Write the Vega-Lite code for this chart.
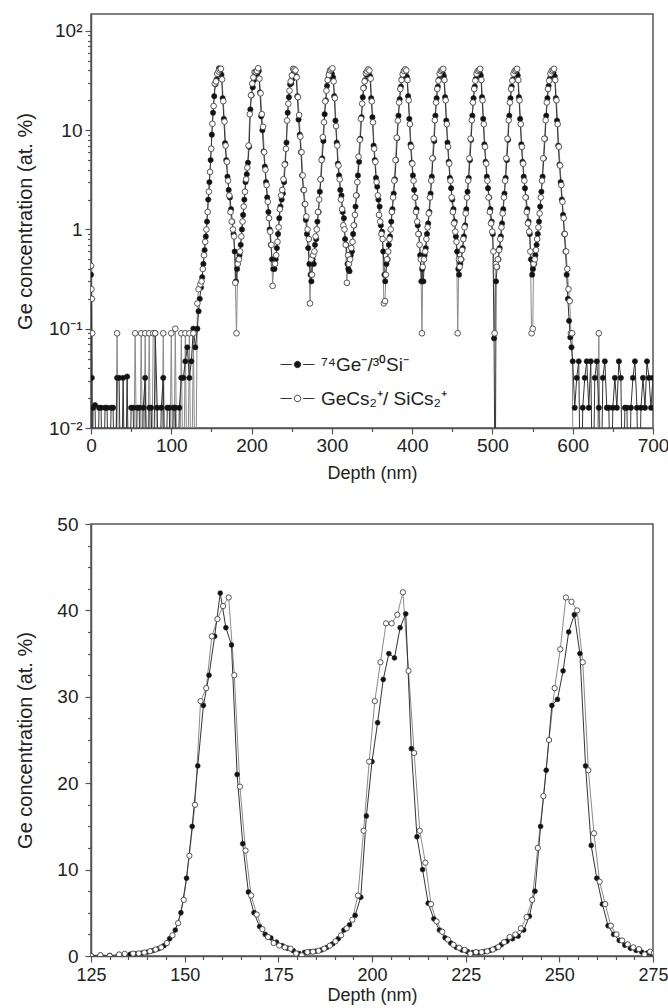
{
"$schema":"https://vega.github.io/schema/vega-lite/v6.json",
"padding":{"left":14,"top":13,"right":10,"bottom":2},
"background":"white",
"config":{
 "view":{"stroke":"#555","strokeWidth":1.5},
 "axis":{"labelFont":"Liberation Sans","titleFont":"Liberation Sans","labelFontSize":19,"titleFontSize":18,"titleFontWeight":"normal","labelColor":"#222","titleColor":"#222","domainColor":"#555","tickColor":"#555","domainWidth":1.5,"tickWidth":1.2,"grid":false,"labelFlush":false,"labelOverlap":false,"labelPadding":2}
},
"datasets":{
"ge":[
{"d":0,"c":0.35},{"d":0.5,"c":0.2},{"d":1,"c":0.032},{"d":1.5,"c":0.001},{"d":2.5,"c":0.016},{"d":5,"c":0.017},{"d":7.5,"c":0.001},{"d":10,"c":0.016},{"d":12.5,"c":0.016},{"d":15,"c":0.001},{"d":17.5,"c":0.016},{"d":20,"c":0.016},{"d":22.5,"c":0.001},{"d":25,"c":0.016},{"d":27.5,"c":0.016},{"d":30,"c":0.001},{"d":32.5,"c":0.032},{"d":35,"c":0.032},{"d":37.5,"c":0.001},{"d":40,"c":0.032},{"d":42.5,"c":0.001},{"d":45,"c":0.033},{"d":47.5,"c":0.001},{"d":50,"c":0.016},{"d":52.5,"c":0.016},{"d":55,"c":0.001},{"d":57.5,"c":0.016},{"d":60,"c":0.016},{"d":62.5,"c":0.001},{"d":65,"c":0.016},{"d":67.5,"c":0.032},{"d":70,"c":0.001},{"d":72.5,"c":0.016},{"d":75,"c":0.016},{"d":77.5,"c":0.001},{"d":80,"c":0.09},{"d":82.5,"c":0.016},{"d":85,"c":0.001},{"d":87.5,"c":0.016},{"d":90,"c":0.032},{"d":92.5,"c":0.001},{"d":95,"c":0.016},{"d":97.5,"c":0.016},{"d":100,"c":0.001},{"d":102.5,"c":0.016},{"d":105,"c":0.016},{"d":107.5,"c":0.001},{"d":110,"c":0.016},{"d":112.5,"c":0.032},{"d":115,"c":0.032},{"d":117.5,"c":0.047},{"d":120,"c":0.065},{"d":122.5,"c":0.032},{"d":125,"c":0.047},{"d":127.5,"c":0.1},{"d":130,"c":0.065},{"d":132.5,"c":0.1},{"d":134,"c":0.15},
{"d":135.5,"c":0.2},{"d":137,"c":0.26},{"d":138.5,"c":0.33},{"d":140,"c":0.45},{"d":141.5,"c":0.62},{"d":143,"c":0.85},{"d":144.5,"c":1.2},{"d":146,"c":2.0},{"d":147.5,"c":3.0},{"d":149,"c":5.0},{"d":150.5,"c":9.0},{"d":152,"c":15},{"d":153.5,"c":22},{"d":155,"c":29},{"d":156.5,"c":32.5},{"d":158,"c":37},{"d":159.5,"c":42},{"d":161,"c":38},{"d":162.5,"c":36},{"d":164,"c":21},{"d":165.5,"c":13},{"d":167,"c":7.4},{"d":168.5,"c":5.0},{"d":170,"c":3.4},{"d":171.5,"c":2.5},{"d":173,"c":2.1},{"d":174.5,"c":1.6},{"d":176,"c":1.2},{"d":177.5,"c":0.9},{"d":179,"c":0.6},{"d":180.5,"c":0.3},
{"d":182,"c":0.4},{"d":183.5,"c":0.5},{"d":185,"c":0.55},{"d":186.5,"c":0.7},{"d":188,"c":1.0},{"d":189.5,"c":1.4},{"d":191,"c":2.0},{"d":192.5,"c":3.0},{"d":194,"c":3.6},{"d":195.5,"c":4.7},{"d":197,"c":6.8},{"d":198.5,"c":16.2},{"d":200,"c":22.5},{"d":201.5,"c":27},{"d":203,"c":32},{"d":204.5,"c":35},{"d":206,"c":34.5},{"d":207.5,"c":38},{"d":209,"c":39.6},{"d":210.5,"c":24},{"d":212,"c":13.8},{"d":213.5,"c":10},{"d":215,"c":6.1},{"d":216.5,"c":4.3},{"d":218,"c":3.0},{"d":219.5,"c":2.1},{"d":221,"c":1.5},{"d":222.5,"c":1.0},{"d":224,"c":0.7},{"d":225.5,"c":0.5},{"d":227,"c":0.4},
{"d":228.5,"c":0.4},{"d":230,"c":0.5},{"d":231.5,"c":0.65},{"d":233,"c":0.9},{"d":234.5,"c":1.3},{"d":236,"c":1.7},{"d":237.5,"c":2.0},{"d":239,"c":2.3},{"d":240.5,"c":3.0},{"d":242,"c":4.6},{"d":243.5,"c":7.5},{"d":245,"c":15},{"d":246.5,"c":21.5},{"d":248,"c":29},{"d":249.5,"c":29.7},{"d":251,"c":33},{"d":252.5,"c":37.5},{"d":254,"c":39.5},{"d":255.5,"c":35},{"d":257,"c":22},{"d":258.5,"c":12.8},{"d":260,"c":9.0},{"d":261.5,"c":6.0},{"d":263,"c":3.5},{"d":264.5,"c":2.5},{"d":266,"c":1.8},{"d":267.5,"c":1.25},{"d":269,"c":0.9},{"d":270.5,"c":0.65},{"d":272,"c":0.45},{"d":273.5,"c":0.35},
{"d":274.5,"c":0.3},{"d":276,"c":0.5},{"d":277.5,"c":0.45},{"d":279,"c":0.7},{"d":280.5,"c":0.8},{"d":282,"c":1.2},{"d":283.5,"c":1.5},{"d":285,"c":2.4},{"d":286.5,"c":3.2},{"d":288,"c":5.2},{"d":289.5,"c":7.8},{"d":291,"c":14.5},{"d":292.5,"c":20},{"d":294,"c":28},{"d":295.5,"c":33},{"d":297,"c":38},{"d":298.5,"c":40},{"d":300,"c":37},{"d":301.5,"c":34},{"d":303,"c":22},{"d":304.5,"c":12.5},{"d":306,"c":7.5},{"d":307.5,"c":4.6},{"d":309,"c":3.5},{"d":310.5,"c":2.5},{"d":312,"c":2.2},{"d":313.5,"c":1.5},{"d":315,"c":1.3},{"d":316.5,"c":0.8},{"d":318,"c":0.7},{"d":319.5,"c":0.45},
{"d":320.5,"c":0.4},{"d":322,"c":0.38},{"d":323.5,"c":0.55},{"d":325,"c":0.6},{"d":326.5,"c":0.9},{"d":328,"c":1.1},{"d":329.5,"c":1.7},{"d":331,"c":2.2},{"d":332.5,"c":3.5},{"d":334,"c":4.8},{"d":335.5,"c":8.2},{"d":337,"c":13.5},{"d":338.5,"c":21.5},{"d":340,"c":27},{"d":341.5,"c":32},{"d":343,"c":36.5},{"d":344.5,"c":39},{"d":346,"c":38.5},{"d":347.5,"c":35},{"d":349,"c":21},{"d":350.5,"c":13.5},{"d":352,"c":7},{"d":353.5,"c":5},{"d":355,"c":3.3},{"d":356.5,"c":2.7},{"d":358,"c":2.0},{"d":359.5,"c":1.7},{"d":361,"c":1.1},{"d":362.5,"c":0.95},{"d":364,"c":0.6},{"d":365.5,"c":0.35},
{"d":366.5,"c":0.3},{"d":368,"c":0.45},{"d":369.5,"c":0.5},{"d":371,"c":0.7},{"d":372.5,"c":0.85},{"d":374,"c":1.2},{"d":375.5,"c":1.6},{"d":377,"c":2.3},{"d":378.5,"c":3.2},{"d":380,"c":5.0},{"d":381.5,"c":8.3},{"d":383,"c":14},{"d":384.5,"c":20.5},{"d":386,"c":27.5},{"d":387.5,"c":33},{"d":389,"c":37.5},{"d":390.5,"c":37.5},{"d":392,"c":38.5},{"d":393.5,"c":34.5},{"d":395,"c":22},{"d":396.5,"c":13},{"d":398,"c":7.2},{"d":399.5,"c":4.7},{"d":401,"c":3.5},{"d":402.5,"c":2.5},{"d":404,"c":2.1},{"d":405.5,"c":1.6},{"d":407,"c":1.1},{"d":408.5,"c":0.9},{"d":410,"c":0.55},{"d":411.5,"c":0.3},
{"d":412.5,"c":0.4},{"d":414,"c":0.3},{"d":415.5,"c":0.55},{"d":417,"c":0.65},{"d":418.5,"c":0.9},{"d":420,"c":1.15},{"d":421.5,"c":1.5},{"d":423,"c":2.3},{"d":424.5,"c":3.4},{"d":426,"c":5.2},{"d":427.5,"c":7.8},{"d":429,"c":14},{"d":430.5,"c":21},{"d":432,"c":27.5},{"d":433.5,"c":32.5},{"d":435,"c":37},{"d":436.5,"c":38},{"d":438,"c":37.5},{"d":439.5,"c":35},{"d":441,"c":21.5},{"d":442.5,"c":12.5},{"d":444,"c":7.5},{"d":445.5,"c":4.8},{"d":447,"c":3.3},{"d":448.5,"c":2.6},{"d":450,"c":2.0},{"d":451.5,"c":1.6},{"d":453,"c":1.2},{"d":454.5,"c":0.85},{"d":456,"c":0.6},{"d":457.5,"c":0.4},
{"d":458.5,"c":0.35},{"d":460,"c":0.45},{"d":461.5,"c":0.5},{"d":463,"c":0.65},{"d":464.5,"c":0.85},{"d":466,"c":1.1},{"d":467.5,"c":1.6},{"d":469,"c":2.4},{"d":470.5,"c":3.3},{"d":472,"c":5.0},{"d":473.5,"c":8.0},{"d":475,"c":14},{"d":476.5,"c":21},{"d":478,"c":27.5},{"d":479.5,"c":33},{"d":481,"c":37},{"d":482.5,"c":38.5},{"d":484,"c":38},{"d":485.5,"c":35.5},{"d":487,"c":21.5},{"d":488.5,"c":13},{"d":490,"c":7.2},{"d":491.5,"c":4.8},{"d":493,"c":3.4},{"d":494.5,"c":2.6},{"d":496,"c":2.1},{"d":497.5,"c":1.6},{"d":499,"c":1.2},{"d":500.5,"c":0.9},{"d":502,"c":0.08},{"d":503.5,"c":0.001},
{"d":504.5,"c":0.3},{"d":506,"c":0.42},{"d":507.5,"c":0.5},{"d":509,"c":0.65},{"d":510.5,"c":0.85},{"d":512,"c":1.15},{"d":513.5,"c":1.6},{"d":515,"c":2.3},{"d":516.5,"c":3.3},{"d":518,"c":5.0},{"d":519.5,"c":8.0},{"d":521,"c":14},{"d":522.5,"c":21},{"d":524,"c":27.5},{"d":525.5,"c":32.5},{"d":527,"c":37},{"d":528.5,"c":38.5},{"d":530,"c":38},{"d":531.5,"c":35.5},{"d":533,"c":21.5},{"d":534.5,"c":13},{"d":536,"c":7.2},{"d":537.5,"c":4.8},{"d":539,"c":3.4},{"d":540.5,"c":2.6},{"d":542,"c":2.1},{"d":543.5,"c":1.6},{"d":545,"c":1.2},{"d":546.5,"c":0.9},{"d":548,"c":0.5},{"d":549.5,"c":0.35},
{"d":550.5,"c":0.4},{"d":552,"c":0.45},{"d":553.5,"c":0.55},{"d":555,"c":0.7},{"d":556.5,"c":0.9},{"d":558,"c":1.2},{"d":559.5,"c":1.7},{"d":561,"c":2.4},{"d":562.5,"c":3.4},{"d":564,"c":5.2},{"d":565.5,"c":8.2},{"d":567,"c":14},{"d":568.5,"c":21},{"d":570,"c":28},{"d":571.5,"c":33},{"d":573,"c":37.5},{"d":574.5,"c":39},{"d":576,"c":38},{"d":577.5,"c":35},{"d":579,"c":21},{"d":580.5,"c":12.5},{"d":582,"c":7},{"d":583.5,"c":4.5},{"d":585,"c":3.0},{"d":586.5,"c":2.0},{"d":588,"c":1.4},{"d":589.5,"c":0.9},{"d":591,"c":0.6},{"d":592.5,"c":0.35},{"d":594,"c":0.2},{"d":595.5,"c":0.12},{"d":597,"c":0.082},{"d":598.5,"c":0.065},{"d":600,"c":0.047},
{"d":602.5,"c":0.016},{"d":605,"c":0.032},{"d":607.5,"c":0.047},{"d":610,"c":0.001},{"d":612.5,"c":0.016},{"d":615,"c":0.032},{"d":617.5,"c":0.047},{"d":620,"c":0.016},{"d":622.5,"c":0.047},{"d":625,"c":0.001},{"d":627.5,"c":0.032},{"d":630,"c":0.047},{"d":632.5,"c":0.016},{"d":635,"c":0.001},{"d":637.5,"c":0.032},{"d":640,"c":0.047},{"d":642.5,"c":0.016},{"d":645,"c":0.016},{"d":647.5,"c":0.001},{"d":650,"c":0.016},{"d":652.5,"c":0.032},{"d":655,"c":0.016},{"d":657.5,"c":0.047},{"d":660,"c":0.032},{"d":662.5,"c":0.001},{"d":665,"c":0.016},{"d":667.5,"c":0.016},{"d":670,"c":0.001},{"d":672.5,"c":0.016},{"d":675,"c":0.032},{"d":677.5,"c":0.047},{"d":680,"c":0.016},{"d":682.5,"c":0.001},{"d":685,"c":0.016},{"d":687.5,"c":0.032},{"d":690,"c":0.016},{"d":692.5,"c":0.047},{"d":695,"c":0.032},{"d":697.5,"c":0.016},{"d":700,"c":0.032}
],
"cs":[
{"d":0,"c":0.43},{"d":0.5,"c":0.25},{"d":1,"c":0.2},{"d":1.5,"c":0.09},{"d":2.5,"c":0.001},{"d":30,"c":0.001},{"d":32.5,"c":0.09},{"d":35,"c":0.001},{"d":52.5,"c":0.001},{"d":55,"c":0.09},{"d":57.5,"c":0.001},{"d":60,"c":0.001},{"d":62.5,"c":0.09},{"d":65,"c":0.001},{"d":67.5,"c":0.09},{"d":70,"c":0.001},{"d":72.5,"c":0.09},{"d":75,"c":0.001},{"d":77.5,"c":0.09},{"d":80,"c":0.09},{"d":82.5,"c":0.001},{"d":87.5,"c":0.001},{"d":90,"c":0.09},{"d":92.5,"c":0.001},{"d":97.5,"c":0.001},{"d":100,"c":0.09},{"d":102.5,"c":0.001},{"d":105,"c":0.1},{"d":107.5,"c":0.001},{"d":110,"c":0.001},{"d":112.5,"c":0.09},{"d":115,"c":0.001},{"d":117.5,"c":0.09},{"d":120,"c":0.001},{"d":122.5,"c":0.09},{"d":125,"c":0.001},{"d":127.5,"c":0.09},{"d":130,"c":0.001},{"d":132.5,"c":0.18},{"d":134,"c":0.25},
{"d":136.25,"c":0.28},{"d":137.75,"c":0.3},{"d":139.25,"c":0.4},{"d":140.75,"c":0.55},{"d":142.25,"c":0.75},{"d":143.75,"c":1.0},{"d":145.25,"c":1.5},{"d":146.75,"c":2.4},{"d":148.25,"c":3.8},{"d":149.75,"c":6.5},{"d":151.25,"c":11.6},{"d":152.75,"c":17.5},{"d":154.25,"c":29.5},{"d":155.75,"c":31},{"d":157.25,"c":37},{"d":158.75,"c":39},{"d":160.25,"c":40.5},{"d":161.75,"c":41.5},{"d":163.25,"c":32.5},{"d":164.75,"c":19.6},{"d":166.25,"c":12.2},{"d":167.75,"c":7.0},{"d":169.25,"c":4.8},{"d":170.75,"c":3.1},{"d":172.25,"c":2.2},{"d":173.75,"c":1.5},{"d":175.25,"c":1.2},{"d":176.75,"c":1.0},{"d":178.25,"c":0.85},{"d":179.75,"c":0.29},{"d":181.25,"c":0.09},
{"d":182.75,"c":0.45},{"d":184.25,"c":0.5},{"d":185.75,"c":0.6},{"d":187.25,"c":0.85},{"d":188.75,"c":1.2},{"d":190.25,"c":1.7},{"d":191.75,"c":2.4},{"d":193.25,"c":3.2},{"d":194.75,"c":4.2},{"d":196.25,"c":7.0},{"d":197.75,"c":14.5},{"d":199.25,"c":22.5},{"d":200.75,"c":29.5},{"d":202.25,"c":34},{"d":203.75,"c":38.5},{"d":205.25,"c":38.5},{"d":206.75,"c":39.5},{"d":208.25,"c":42.1},{"d":209.75,"c":33},{"d":211.25,"c":23.5},{"d":212.75,"c":14.5},{"d":214.25,"c":10.8},{"d":215.75,"c":6.0},{"d":217.25,"c":4.0},{"d":218.75,"c":2.8},{"d":220.25,"c":1.9},{"d":221.75,"c":1.3},{"d":223.25,"c":0.95},{"d":224.75,"c":0.7},{"d":226.25,"c":0.27},{"d":227.75,"c":0.45},
{"d":229.25,"c":0.45},{"d":230.75,"c":0.55},{"d":232.25,"c":0.75},{"d":233.75,"c":1.05},{"d":235.25,"c":1.6},{"d":236.75,"c":2.2},{"d":238.25,"c":2.5},{"d":239.75,"c":3.2},{"d":241.25,"c":4.5},{"d":242.75,"c":6.5},{"d":244.25,"c":12.5},{"d":245.75,"c":18.5},{"d":247.25,"c":25},{"d":248.75,"c":31},{"d":250.25,"c":35.5},{"d":251.75,"c":41.5},{"d":253.25,"c":41},{"d":254.75,"c":40},{"d":256.25,"c":34},{"d":257.75,"c":21.5},{"d":259.25,"c":14.2},{"d":260.75,"c":8.6},{"d":262.25,"c":6.0},{"d":263.75,"c":3.5},{"d":265.25,"c":2.5},{"d":266.75,"c":1.8},{"d":268.25,"c":1.35},{"d":269.75,"c":1.0},{"d":271.25,"c":0.8},{"d":272.75,"c":0.18},{"d":274.25,"c":0.5},
{"d":275.25,"c":0.35},{"d":276.75,"c":0.55},{"d":278.25,"c":0.6},{"d":279.75,"c":0.85},{"d":281.25,"c":1.0},{"d":282.75,"c":1.5},{"d":284.25,"c":2.0},{"d":285.75,"c":3.2},{"d":287.25,"c":5.0},{"d":288.75,"c":8.5},{"d":290.25,"c":12},{"d":291.75,"c":19.5},{"d":293.25,"c":25},{"d":294.75,"c":32},{"d":296.25,"c":36},{"d":297.75,"c":40},{"d":299.25,"c":41},{"d":300.75,"c":42},{"d":302.25,"c":31},{"d":303.75,"c":21},{"d":305.25,"c":11},{"d":306.75,"c":7},{"d":308.25,"c":4.4},{"d":309.75,"c":3.2},{"d":311.25,"c":2.0},{"d":312.75,"c":1.6},{"d":314.25,"c":1.1},{"d":315.75,"c":1.0},{"d":317.25,"c":0.7},{"d":318.75,"c":0.29},{"d":320.25,"c":0.55},
{"d":321.25,"c":0.45},{"d":322.75,"c":0.5},{"d":324.25,"c":0.65},{"d":325.75,"c":0.75},{"d":327.25,"c":1.1},{"d":328.75,"c":1.4},{"d":330.25,"c":2.2},{"d":331.75,"c":3.0},{"d":333.25,"c":5.4},{"d":334.75,"c":8.0},{"d":336.25,"c":13},{"d":337.75,"c":18.5},{"d":339.25,"c":26.5},{"d":340.75,"c":31},{"d":342.25,"c":37.5},{"d":343.75,"c":39},{"d":345.25,"c":41},{"d":346.75,"c":40},{"d":348.25,"c":33},{"d":349.75,"c":19.5},{"d":351.25,"c":12},{"d":352.75,"c":6.5},{"d":354.25,"c":4.8},{"d":355.75,"c":3.0},{"d":357.25,"c":2.2},{"d":358.75,"c":1.4},{"d":360.25,"c":1.2},{"d":361.75,"c":0.9},{"d":363.25,"c":0.8},{"d":364.75,"c":0.18},{"d":366.25,"c":0.19},
{"d":367.25,"c":0.35},{"d":368.75,"c":0.5},{"d":370.25,"c":0.6},{"d":371.75,"c":0.8},{"d":373.25,"c":1.0},{"d":374.75,"c":1.5},{"d":376.25,"c":2.1},{"d":377.75,"c":3.1},{"d":379.25,"c":5.0},{"d":380.75,"c":8.4},{"d":382.25,"c":12.5},{"d":383.75,"c":19},{"d":385.25,"c":26},{"d":386.75,"c":32},{"d":388.25,"c":36.5},{"d":389.75,"c":39.5},{"d":391.25,"c":41},{"d":392.75,"c":40},{"d":394.25,"c":32},{"d":395.75,"c":20},{"d":397.25,"c":11.5},{"d":398.75,"c":6.8},{"d":400.25,"c":4.6},{"d":401.75,"c":3.1},{"d":403.25,"c":2.1},{"d":404.75,"c":1.5},{"d":406.25,"c":1.2},{"d":407.75,"c":0.9},{"d":409.25,"c":0.7},{"d":410.75,"c":0.5},{"d":412.25,"c":0.09},
{"d":413.25,"c":0.42},{"d":414.75,"c":0.5},{"d":416.25,"c":0.6},{"d":417.75,"c":0.8},{"d":419.25,"c":1.05},{"d":420.75,"c":1.45},{"d":422.25,"c":2.1},{"d":423.75,"c":3.1},{"d":425.25,"c":5.2},{"d":426.75,"c":8.2},{"d":428.25,"c":12.6},{"d":429.75,"c":19},{"d":431.25,"c":26},{"d":432.75,"c":31.5},{"d":434.25,"c":37},{"d":435.75,"c":39.5},{"d":437.25,"c":40.5},{"d":438.75,"c":41.5},{"d":440.25,"c":32},{"d":441.75,"c":20},{"d":443.25,"c":11.5},{"d":444.75,"c":6.8},{"d":446.25,"c":4.6},{"d":447.75,"c":3.1},{"d":449.25,"c":2.1},{"d":450.75,"c":1.5},{"d":452.25,"c":1.15},{"d":453.75,"c":0.95},{"d":455.25,"c":0.75},{"d":456.75,"c":0.09},{"d":458.25,"c":0.5},
{"d":459.25,"c":0.42},{"d":460.75,"c":0.5},{"d":462.25,"c":0.62},{"d":463.75,"c":0.8},{"d":465.25,"c":1.05},{"d":466.75,"c":1.45},{"d":468.25,"c":2.1},{"d":469.75,"c":3.1},{"d":471.25,"c":5.2},{"d":472.75,"c":8.2},{"d":474.25,"c":12.6},{"d":475.75,"c":19},{"d":477.25,"c":26},{"d":478.75,"c":31.5},{"d":480.25,"c":37},{"d":481.75,"c":39.5},{"d":483.25,"c":40.5},{"d":484.75,"c":41.5},{"d":486.25,"c":32},{"d":487.75,"c":20},{"d":489.25,"c":11.5},{"d":490.75,"c":6.8},{"d":492.25,"c":4.6},{"d":493.75,"c":3.1},{"d":495.25,"c":2.1},{"d":496.75,"c":1.5},{"d":498.25,"c":1.15},{"d":499.75,"c":0.95},{"d":501.25,"c":0.6},{"d":502.75,"c":0.09},{"d":504.25,"c":0.45},
{"d":505.25,"c":0.42},{"d":506.75,"c":0.5},{"d":508.25,"c":0.62},{"d":509.75,"c":0.8},{"d":511.25,"c":1.05},{"d":512.75,"c":1.45},{"d":514.25,"c":2.1},{"d":515.75,"c":3.1},{"d":517.25,"c":5.2},{"d":518.75,"c":8.2},{"d":520.25,"c":12.6},{"d":521.75,"c":19},{"d":523.25,"c":26},{"d":524.75,"c":31.5},{"d":526.25,"c":37},{"d":527.75,"c":39.5},{"d":529.25,"c":40.5},{"d":530.75,"c":41.5},{"d":532.25,"c":32},{"d":533.75,"c":20},{"d":535.25,"c":11.5},{"d":536.75,"c":6.8},{"d":538.25,"c":4.6},{"d":539.75,"c":3.1},{"d":541.25,"c":2.1},{"d":542.75,"c":1.5},{"d":544.25,"c":1.15},{"d":545.75,"c":0.95},{"d":547.25,"c":0.6},{"d":548.75,"c":0.09},{"d":550.25,"c":0.1},
{"d":551.25,"c":0.45},{"d":552.75,"c":0.5},{"d":554.25,"c":0.62},{"d":555.75,"c":0.8},{"d":557.25,"c":1.05},{"d":558.75,"c":1.45},{"d":560.25,"c":2.1},{"d":561.75,"c":3.1},{"d":563.25,"c":5.2},{"d":564.75,"c":8.2},{"d":566.25,"c":12.6},{"d":567.75,"c":19},{"d":569.25,"c":26},{"d":570.75,"c":31.5},{"d":572.25,"c":37},{"d":573.75,"c":39.5},{"d":575.25,"c":40.5},{"d":576.75,"c":41.5},{"d":578.25,"c":32},{"d":579.75,"c":20},{"d":581.25,"c":11.5},{"d":582.75,"c":6.8},{"d":584.25,"c":4.4},{"d":585.75,"c":2.8},{"d":587.25,"c":1.9},{"d":588.75,"c":1.3},{"d":590.25,"c":0.9},{"d":591.75,"c":0.6},{"d":593.25,"c":0.4},{"d":594.75,"c":0.25},{"d":596.25,"c":0.19},{"d":597.75,"c":0.09},{"d":599.25,"c":0.09},{"d":600.75,"c":0.001},{"d":630,"c":0.001},{"d":632.5,"c":0.09},{"d":635,"c":0.001},{"d":700,"c":0.001}
]
},
"spacing":96,
"bounds":"flush",
"vconcat":[
{
 "width":562,"height":414,
 "encoding":{
  "x":{"field":"d","type":"quantitative","scale":{"domain":[0,700],"nice":false,"zero":false},
   "axis":{"title":"Depth (nm)","values":[0,50,100,150,200,250,300,350,400,450,500,550,600,650,700],"labelExpr":"datum.value % 100 === 0 ? datum.label : ''","tickSize":{"condition":{"test":"datum.value % 100 === 0","value":6},"value":3.5},"titlePadding":9}},
  "y":{"field":"c","type":"quantitative","scale":{"type":"log","domain":[0.01,148],"nice":false},
   "axis":{"title":"Ge concentration (at. %)","titleFontSize":20,"values":[0.01,0.02,0.03,0.04,0.05,0.06,0.07,0.08,0.09,0.1,0.2,0.3,0.4,0.5,0.6,0.7,0.8,0.9,1,2,3,4,5,6,7,8,9,10,20,30,40,50,60,70,80,90,100],
   "labelExpr":"datum.value == 100 ? '10²' : datum.value == 10 ? '10' : datum.value == 1 ? '1' : datum.value == 0.1 ? '10⁻¹' : datum.value == 0.01 ? '10⁻²' : ''",
   "tickSize":{"condition":{"test":"indexof([0.01,0.1,1,10,100], datum.value) >= 0","value":6},"value":3.5},
   "labelPadding":3,"titleX":-66,"titleY":207,"titleAngle":270,"titleBaseline":"middle","titleAlign":"center"}}
 },
 "layer":[
  {"data":{"name":"cs"},"mark":{"type":"line","clip":true,"stroke":"#8a8a8a","strokeWidth":1}},
  {"data":{"name":"ge"},"mark":{"type":"line","clip":true,"stroke":"#333","strokeWidth":1}},
  {"data":{"name":"ge"},"mark":{"type":"point","clip":true,"filled":true,"opacity":1,"size":28,"stroke":"#222","strokeWidth":0.6},
   "encoding":{"fill":{"datum":"⁷⁴Ge⁻/³⁰Si⁻","type":"nominal","scale":{"domain":["⁷⁴Ge⁻/³⁰Si⁻","GeCs₂⁺/ SiCs₂⁺"],"range":["#111111","#ffffff"]},
    "legend":{"orient":"none","legendX":189,"legendY":333,"title":null,"symbolType":"M-1,0H-0.34M0.34,0H1M-0.19,0A0.19,0.19,0,1,1,0.19,0A0.19,0.19,0,1,1,-0.19,0Z","symbolSize":1150,"symbolStrokeColor":"#333","symbolStrokeWidth":1,"labelFont":"Liberation Sans","labelFontSize":19,"labelColor":"#222","rowPadding":6,"labelOffset":6}}}},
  {"data":{"name":"cs"},"mark":{"type":"point","clip":true,"filled":true,"opacity":1,"size":32,"stroke":"#444","strokeWidth":0.9},
   "encoding":{"fill":{"datum":"GeCs₂⁺/ SiCs₂⁺","type":"nominal"}}},
  {"data":{"values":[{}]},"mark":{"type":"text","font":"Liberation Sans","fontSize":19,"color":"#222"},
   "encoding":{"x":{"datum":342},"y":{"datum":94},"text":{"value":"Sample S4"}}},
  {"data":{"values":[{}]},"mark":{"type":"text","font":"Liberation Serif","fontSize":23,"fontWeight":"bold","color":"#222"},
   "encoding":{"x":{"datum":50},"y":{"datum":63},"text":{"value":"a)"}}}
 ]
},
{
 "width":562,"height":432,
 "encoding":{
  "x":{"field":"d","type":"quantitative","scale":{"domain":[125,275],"nice":false,"zero":false},
   "axis":{"title":"Depth (nm)","labelFontSize":18,"labelPadding":4,"values":[125,130,135,140,145,150,155,160,165,170,175,180,185,190,195,200,205,210,215,220,225,230,235,240,245,250,255,260,265,270,275],"labelExpr":"datum.value % 25 === 0 ? datum.label : ''","tickSize":{"condition":{"test":"datum.value % 25 === 0","value":6},"value":3.5},"titlePadding":2}},
  "y":{"field":"c","type":"quantitative","scale":{"domain":[0,50],"nice":false},
   "axis":{"title":"Ge concentration (at. %)","titleFontSize":20,"values":[0,2.5,5,7.5,10,12.5,15,17.5,20,22.5,25,27.5,30,32.5,35,37.5,40,42.5,45,47.5,50],
   "labelExpr":"datum.value % 10 === 0 ? datum.label : ''",
   "tickSize":{"condition":{"test":"datum.value % 10 === 0","value":6},"value":3.5},
   "labelPadding":7,"titleX":-66,"titleY":216,"titleAngle":270,"titleBaseline":"middle","titleAlign":"center"}}
 },
 "layer":[
  {"data":{"name":"cs"},"mark":{"type":"line","clip":true,"stroke":"#8a8a8a","strokeWidth":1}},
  {"data":{"name":"ge"},"mark":{"type":"line","clip":true,"stroke":"#333","strokeWidth":1}},
  {"data":{"name":"ge"},"mark":{"type":"point","clip":true,"filled":true,"opacity":1,"size":24,"fill":"#111","stroke":"#222","strokeWidth":0.6}},
  {"data":{"name":"cs"},"mark":{"type":"point","clip":true,"filled":true,"opacity":1,"size":28,"fill":"#fff","stroke":"#444","strokeWidth":0.9}},
  {"data":{"values":[{}]},"mark":{"type":"text","font":"Liberation Sans","fontSize":19,"color":"#222"},
   "encoding":{"x":{"datum":197},"y":{"datum":47},"text":{"value":"Sample S4"}}},
  {"data":{"values":[{}]},"mark":{"type":"text","font":"Liberation Serif","fontSize":23,"fontWeight":"bold","color":"#222"},
   "encoding":{"x":{"datum":136},"y":{"datum":45},"text":{"value":"b)"}}}
 ]
}
]
}
